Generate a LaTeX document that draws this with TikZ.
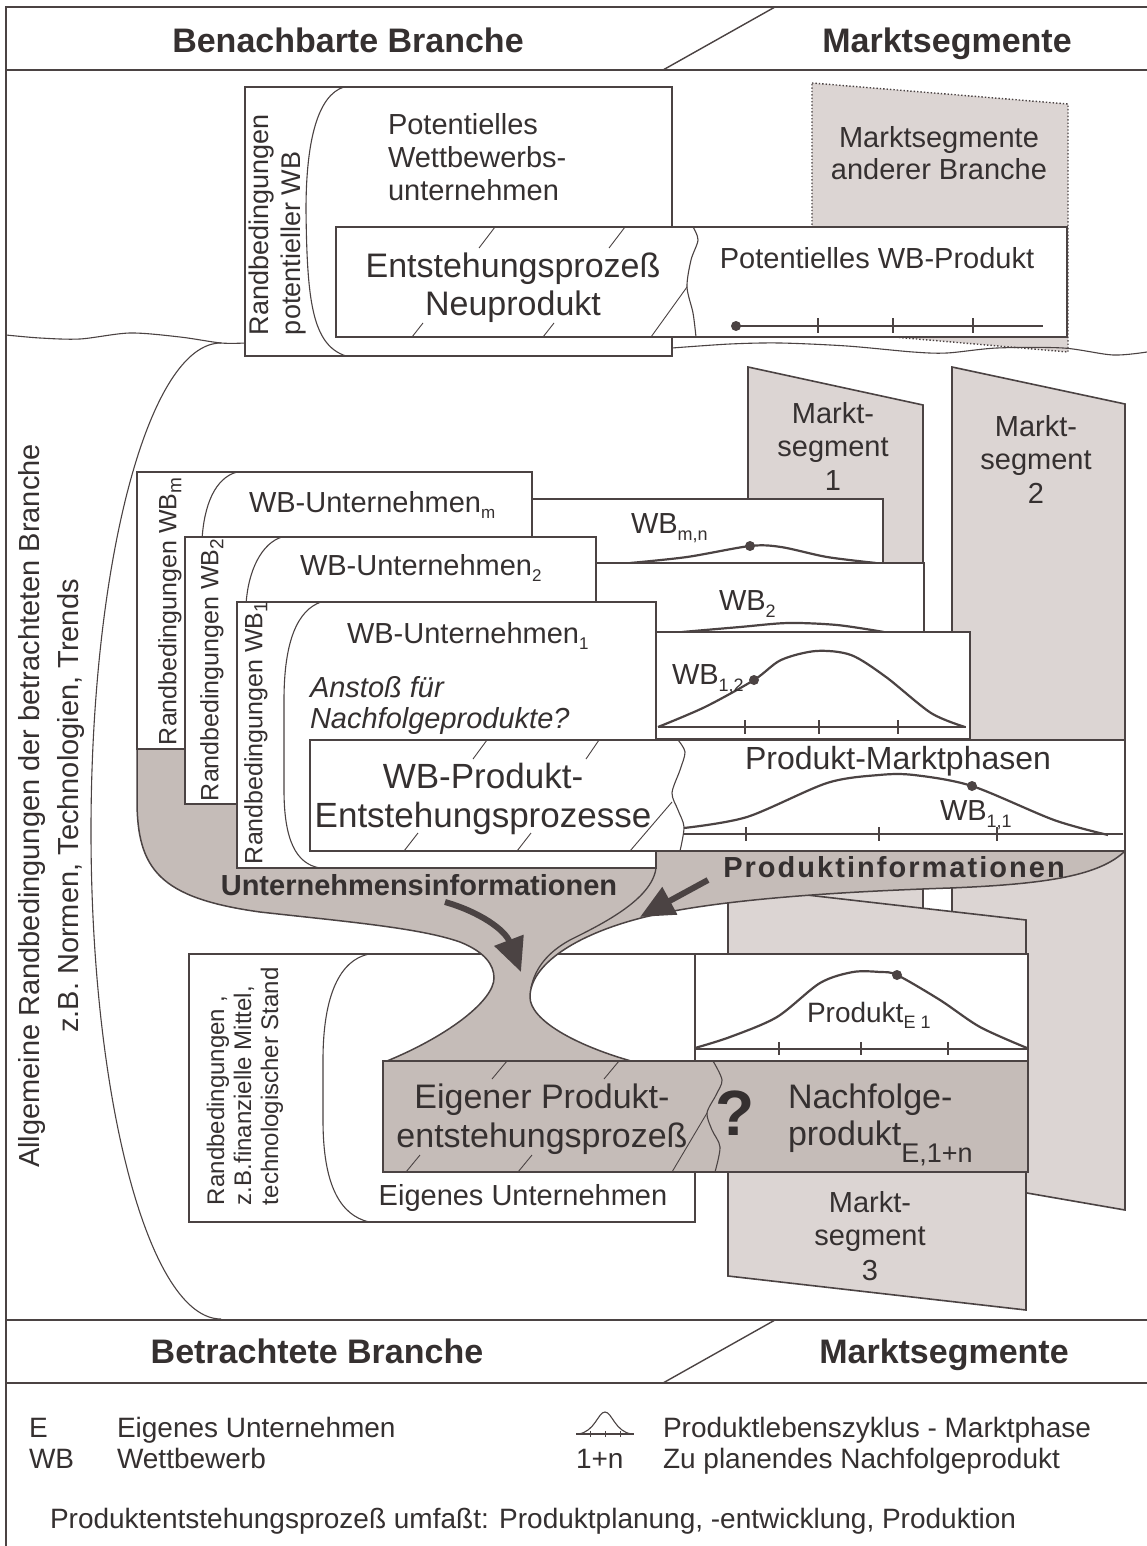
\documentclass[tikz,border=0pt]{standalone}
\usepackage{fontspec}
\setmainfont{Liberation Sans}
\usetikzlibrary{arrows.meta}
\definecolor{ln}{HTML}{4B4343}
\definecolor{tx}{HTML}{353030}
\definecolor{segc}{HTML}{DCD5D3}
\definecolor{flowc}{HTML}{C5BCB8}
\newcommand\fsz[2]{\fontsize{#1}{#2}\selectfont}
\newcommand\lowsub[3]{\raisebox{-#2pt}{\fsz{#1}{#1}#3}}
\begin{document}
\begin{tikzpicture}[x=1pt,y=-1pt,
 every node/.style={inner sep=0pt,outer sep=0pt,text=tx},
 frameline/.style={draw=ln,line width=2pt},
 boxline/.style={draw=ln,line width=1.8pt,fill=white},
 thinline/.style={draw=ln,line width=1.1pt},
 segshape/.style={draw=ln,line width=1.6pt,fill=segc},
 flowshape/.style={draw=ln,line width=1.5pt,fill=flowc},
 axisline/.style={draw=ln,line width=1.3pt},
 tickline/.style={draw=ln,line width=1.1pt},
 lifecurve/.style={draw=ln,line width=2.2pt},
 slashmark/.style={draw=ln,line width=0.9pt},
 bigarrow/.style={draw=ln,line width=6pt,-{Triangle[length=34pt,width=30pt]}},
 hdr/.style={font=\fsz{34}{40}\bfseries},
 ta/.style={font=\fsz{29}{33}},
 tb/.style={font=\fsz{34}{39}},
 tr/.style={font=\fsz{25}{29}},
 tl/.style={font=\fsz{28}{32}},
]
\useasboundingbox (0,0) rectangle (1147,1546);
\fill[white] (0,0) rectangle (1147,1546);

% ---------- frame and bands
\draw[frameline] (6,1546) -- (6,7) -- (1147,7);
\draw[frameline] (6,70) -- (1147,70);
\draw[frameline] (6,1320) -- (1147,1320);
\draw[frameline] (6,1383) -- (1147,1383);
\draw[thinline,line width=1.4pt] (775,7) -- (663,70);
\draw[thinline,line width=1.4pt] (775,1320) -- (663,1383);
\node[hdr,anchor=base] (hbb) at (348,53) {Benachbarte Branche};
\node[hdr,anchor=base] (hms1) at (947,53) {Marktsegmente};
\node[hdr,anchor=base] (hbt) at (317,1363) {Betrachtete Branche};
\node[hdr,anchor=base] (hms2) at (944,1363) {Marktsegmente};

% ---------- top: other branch market segments
\path[fill=segc] (812,83) -- (1068,104) -- (1068,352) -- (812,330) -- cycle;
\draw[draw=ln,line width=1.4pt,dotted] (812,83) -- (1068,104) -- (1068,352) -- (812,330) -- cycle;
\node[ta,anchor=base] (msa1) at (939,148) {Marktsegmente};
\node[ta,anchor=base] (msa2) at (939,180) {anderer Branche};

% wavy separator and big arc
\draw[thinline] plot[smooth] coordinates {(6,335) (40,338) (80,339) (130,333) (180,337) (221,343) (245,343)};
\draw[thinline] plot[smooth] coordinates {(672,348) (730,344) (780,343) (847,346) (913,352) (947,353) (997,348) (1063,348) (1113,355) (1147,352)};
\draw[thinline] (221,343) .. controls (149,343) and (91,561) .. (91,831) .. controls (91,1100) and (149,1319) .. (221,1319);
\node[font=\fsz{29}{39},rotate=90,align=center] (allg) at (52,806) {Allgemeine Randbedingungen der betrachteten Branche\\z.B. Normen, Technologien, Trends};

% potential competitor
\draw[boxline] (245,87) rectangle (672,356);
\draw[thinline] (344,87) .. controls (318,95) and (306,140) .. (306,210) .. controls (307,300) and (312,345) .. (346,356);
\node[font=\fsz{27}{32},rotate=90,anchor=west,align=left] (randpot) at (278,335) {Randbedingungen\\potentieller WB};
\node[ta,anchor=base west] (pot1) at (388,135) {Potentielles};
\node[ta,anchor=base west] (pot2) at (388,168) {Wettbewerbs-};
\node[ta,anchor=base west] (pot3) at (388,201) {unternehmen};

\draw[boxline] (336,227) rectangle (1067,337);
\draw[thinline] plot[smooth] coordinates {(693,227) (698,240) (691,260) (687,287) (693,313) (696,337)};
\draw[slashmark] (687,287) -- (651,337);
\draw[slashmark] (495,227) -- (479,248);
\draw[slashmark] (625,227) -- (609,248);
\draw[slashmark] (423,323) -- (412,337);
\draw[slashmark] (554,323) -- (543,337);
\node[tb,anchor=base] (ent1) at (513,277) {Entstehungsprozeß};
\node[tb,anchor=base] (ent2) at (513,315) {Neuprodukt};
\node[ta,anchor=base] (potwb) at (877,269) {Potentielles WB-Produkt};
\draw[axisline] (736,326) -- (1043,326);
\foreach \t in {818,893,973} \draw[tickline] (\t,318) -- (\t,333);
\fill[ln] (736,326) circle[radius=5pt];

% ---------- market segments
\draw[segshape] (748,367) -- (923,405) -- (923,1000) -- (748,1000) -- cycle;
\draw[segshape] (952,367) -- (1125,404) -- (1125,1210) -- (952,1180) -- cycle;
\draw[segshape] (728,886) -- (1026,920) -- (1026,1310) -- (728,1276) -- cycle;
\node[ta,anchor=base] (s1a) at (833,423) {Markt-};
\node[ta,anchor=base] (s1b) at (833,456) {segment};
\node[ta,anchor=base] (s1c) at (833,490) {1};
\node[ta,anchor=base] (s2a) at (1036,436) {Markt-};
\node[ta,anchor=base] (s2b) at (1036,469) {segment};
\node[ta,anchor=base] (s2c) at (1036,503) {2};
\node[ta,anchor=base] (s3a) at (870,1212) {Markt-};
\node[ta,anchor=base] (s3b) at (870,1245) {segment};
\node[ta,anchor=base] (s3c) at (870,1280) {3};

% ---------- own company
\draw[boxline] (189,954) rectangle (695,1222);
\draw[thinline] (369,954) .. controls (340,960) and (323,995) .. (323,1060) -- (323,1120) .. controls (323,1185) and (340,1215) .. (369,1222);
\node[font=\fsz{24}{27},rotate=90,anchor=west,align=left] (randeig) at (245,1205) {Randbedingungen ,\\z.B.finanzielle Mittel,\\technologischer Stand};
\node[ta,anchor=base] (eigu) at (523,1205) {Eigenes Unternehmen};

% ---------- information flow
\draw[flowshape] (137,746) -- (137,800)
  .. controls (137,870) and (160,898) .. (260,912)
  .. controls (350,922) and (420,928) .. (460,942)
  .. controls (485,952) and (494,965) .. (494,978)
  .. controls (494,1000) and (450,1035) .. (387,1061)
  -- (631,1061)
  .. controls (575,1045) and (530,1020) .. (530,997)
  .. controls (530,965) and (575,935) .. (641,918)
  .. controls (700,903) and (800,893) .. (950,888)
  .. controls (1050,884) and (1100,875) .. (1125,851)
  -- (1125,746) -- cycle;
\draw[thinline,line width=1.3pt] (656,868) .. controls (652,900) and (600,925) .. (570,940) .. controls (548,952) and (535,968) .. (531,988);

% ---------- competitor m
\draw[boxline] (440,499) rectangle (883,563);
\draw[lifecurve] plot[smooth] coordinates {(630,563) (687,557) (750,546) (781,547) (827,557) (876,563)};
\fill[ln] (750,546) circle[radius=5pt];
\node[ta,anchor=base west] (wbmn) at (631,533) {WB\lowsub{18}{7}{m,n}};
\draw[boxline] (137,472) rectangle (532,749);
\draw[thinline] (237,472) .. controls (215,478) and (204,505) .. (202,540) -- (202,600);
\node[ta,anchor=base west] (wbum) at (249,512) {WB-Unternehmen\lowsub{17}{6}{m}};
\node[tr,rotate=90,anchor=west] (rbm) at (170,745) {Randbedingungen WB\lowsub{19}{5}{m}};

% ---------- competitor 2
\draw[boxline] (500,563) rectangle (924,632);
\draw[lifecurve] plot[smooth] coordinates {(682,632) (740,627) (788,623) (837,625) (884,632)};
\node[ta,anchor=base west] (wb2) at (719,610) {WB\lowsub{18}{7}{2}};
\draw[boxline] (185,537) rectangle (596,804);
\draw[thinline] (282,537) .. controls (262,543) and (248,570) .. (246,605) -- (246,650);
\node[ta,anchor=base west] (wbu2) at (300,575) {WB-Unternehmen\lowsub{17}{6}{2}};
\node[tr,rotate=90,anchor=west] (rb2) at (212,801) {Randbedingungen WB\lowsub{19}{5}{2}};

% ---------- competitor 1
\draw[boxline] (600,632) rectangle (970,739);
\draw[axisline] (658,727) -- (966,727);
\foreach \t in {745,819,898} \draw[tickline] (\t,720) -- (\t,734);
\draw[lifecurve] plot[smooth] coordinates {(658,727) (705,707) (754,680) (781,660) (816,651) (851,655) (886,677) (931,713) (965,727)};
\fill[ln] (754,680) circle[radius=5pt];
\node[ta,anchor=base west] (wb12) at (672,684) {WB\lowsub{18}{7}{1,2}};
\draw[boxline] (237,602) rectangle (656,868);
\draw[thinline] (321,602) .. controls (298,610) and (284,640) .. (284,700) -- (284,790) .. controls (284,840) and (296,864) .. (320,868);
\node[ta,anchor=base west] (wbu1) at (347,643) {WB-Unternehmen\lowsub{17}{6}{1}};
\node[tr,rotate=90,anchor=west] (rb1) at (256,864) {Randbedingungen WB\lowsub{19}{5}{1}};
\node[ta,anchor=base west] (ans1) at (310,697) {\itshape Anstoß für};
\node[ta,anchor=base west] (ans2) at (310,728) {\itshape Nachfolgeprodukte?};

% WB product process
\draw[boxline] (310,740) rectangle (1125,851);
\draw[thinline] plot[smooth] coordinates {(678,740) (685,752) (680,770) (672,793) (678,810) (684,827) (680,851)};
\draw[slashmark] (672,802) -- (630,851);
\draw[slashmark] (487,740) -- (473,759);
\draw[slashmark] (599,740) -- (586,759);
\draw[slashmark] (418,833) -- (404,851);
\draw[slashmark] (531,833) -- (517,851);
\node[font=\fsz{35}{39},anchor=base] (wbp1) at (483,788) {WB-Produkt-};
\node[font=\fsz{35}{39},anchor=base] (wbp2) at (483,827) {Entstehungsprozesse};
\node[font=\fsz{32}{36},anchor=base] (pmp) at (898,769) {Produkt-Marktphasen};
\draw[axisline] (684,834) -- (1123,834);
\foreach \t in {746,879,997} \draw[tickline] (\t,827) -- (\t,841);
\draw[lifecurve] plot[smooth] coordinates {(684,828) (747,817) (827,783) (879,775) (914,775) (972,786) (1054,820) (1108,835)};
\fill[ln] (972,786) circle[radius=5pt];
\node[ta,anchor=base west] (wb11) at (940,820) {WB\lowsub{18}{7}{1,1}};

% ---------- own product
\draw[boxline] (695,954) rectangle (1028,1061);
\draw[axisline] (695,1049) -- (1028,1049);
\foreach \t in {779,861,948} \draw[tickline] (\t,1042) -- (\t,1055);
\draw[lifecurve] plot[smooth] coordinates {(695,1048) (730,1037) (777,1017) (820,983) (853,972) (880,972) (897,975) (940,1000) (980,1027) (1027,1048)};
\fill[ln] (897,975) circle[radius=5pt];
\node[font=\fsz{28}{32},anchor=base west] (pe1) at (807,1022) {Produkt\lowsub{18}{6}{E 1}};

\draw[boxline,fill=flowc] (383,1061) rectangle (1028,1172);
\draw[thinline] plot[smooth] coordinates {(713,1061) (722,1080) (716,1095) (707,1113) (712,1130) (720,1147) (715,1172)};
\draw[slashmark] (507,1061) -- (492,1079);
\draw[slashmark] (619,1061) -- (604,1079);
\draw[slashmark] (420,1155) -- (406,1172);
\draw[slashmark] (532,1155) -- (518,1172);
\draw[slashmark] (707,1113) -- (672,1172);
\node[tb,anchor=base] (eig1) at (542,1108) {Eigener Produkt-};
\node[tb,anchor=base] (eig2) at (542,1147) {entstehungsprozeß};
\node[font=\fsz{64}{64}\bfseries] (qm) at (735,1113) {?};
\node[tb,anchor=base west] (nf1) at (788,1108) {Nachfolge-};
\node[tb,anchor=base west] (nf2) at (788,1145) {produkt\lowsub{27}{17}{E,1+n}};

% ---------- flow labels and arrows
\node[font=\fsz{29}{33}\bfseries,anchor=base] (uinf) at (419,895) {Unternehmensinformationen};
\node[font=\fsz{29}{33}\bfseries\addfontfeatures{LetterSpace=7},anchor=base] (pinf) at (894,877) {Produktinformationen};
\coordinate (ua) at (445,902);
\coordinate (ub) at (521,972);
\coordinate (pa) at (708,880);
\coordinate (pb) at (640,917);
\draw[bigarrow] (ua) .. controls (480,912) and (505,930) .. (ub);
\draw[bigarrow] (pa) -- (pb);

% ---------- legend
\node[tl,anchor=base west] (le) at (29,1437) {E};
\node[tl,anchor=base west] (leu) at (117,1437) {Eigenes Unternehmen};
\node[tl,anchor=base west] (lwb) at (29,1468) {WB};
\node[tl,anchor=base west] (lwbw) at (117,1468) {Wettbewerb};
\draw[thinline] (576,1434) -- (634,1434);
\draw[thinline] (578,1434) .. controls (595,1432) and (598,1412) .. (605,1412) .. controls (612,1412) and (615,1432) .. (632,1434);
\foreach \t in {590,605,620} \draw[slashmark] (\t,1431) -- (\t,1437);
\node[tl,anchor=base west] (lplz) at (663,1437) {Produktlebenszyklus - Marktphase};
\node[tl,anchor=base west] (l1n) at (576,1468) {1+n};
\node[tl,anchor=base west] (lzu) at (663,1468) {Zu planendes Nachfolgeprodukt};
\node[tl,anchor=base west] (lpep) at (50,1528) {Produktentstehungsprozeß umfaßt: Produktplanung, -entwicklung, Produktion};
\end{tikzpicture}
\end{document}
